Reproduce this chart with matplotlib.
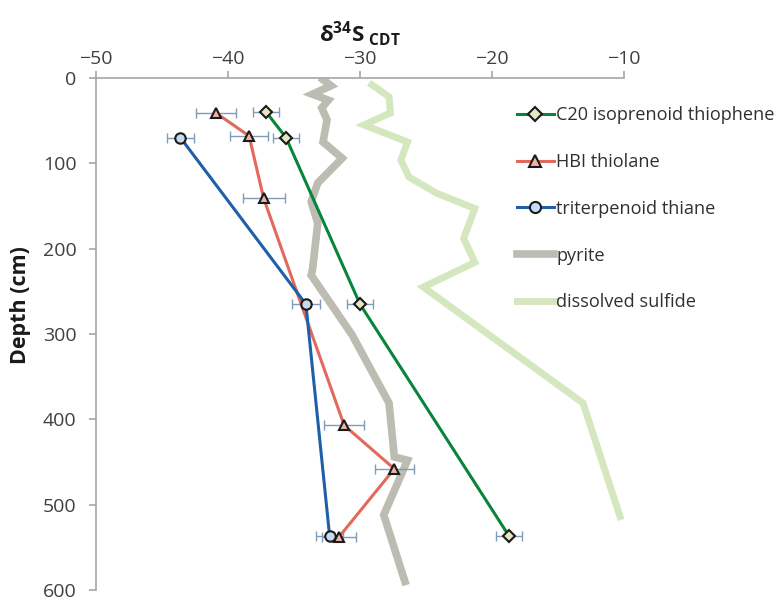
import matplotlib
matplotlib.use("Agg")
import matplotlib.pyplot as plt
from matplotlib.lines import Line2D

plt.rcParams['font.family'] = ['Open Sans', 'DejaVu Sans']
plt.rcParams['mathtext.fontset'] = 'custom'
plt.rcParams['mathtext.rm'] = 'Open Sans'
plt.rcParams['mathtext.bf'] = 'Open Sans:bold'

# ---- data ----
c20_depth = [40, 70, 265, 537]
c20_d34s = [-37.1, -35.6, -30.0, -18.7]
c20_err = [1.0, 1.0, 1.0, 1.0]

hbi_depth = [41, 68, 141, 407, 458, 538]
hbi_d34s = [-40.9, -38.4, -37.3, -31.2, -27.4, -31.6]
hbi_err = [1.5, 1.45, 1.6, 1.5, 1.5, 1.3]

tri_depth = [70, 265, 537]
tri_d34s = [-43.6, -34.1, -32.3]
tri_err = [1.0, 1.05, 1.0]

pyrite_depth = [2, 9, 19, 26, 35, 49, 75, 94, 123, 145, 170, 225, 231, 301, 381, 444, 448, 512, 590]
pyrite_d34s = [-32.8, -32.2, -33.6, -32.4, -32.9, -32.5, -32.8, -31.35, -33.2, -33.7, -33.2, -33.6, -33.7,
               -30.6, -27.8, -27.4, -26.4, -28.2, -26.6]

sulf_depth = [8, 22, 41, 55, 75, 96, 116, 135, 153, 188, 216, 245, 381, 514]
sulf_d34s = [-29.1, -27.8, -27.7, -29.7, -26.4, -26.9, -26.3, -24.2, -21.3, -22.15, -21.3, -25.2, -13.1, -10.3]

xticks = [-50, -40, -30, -20, -10]
yticks = [0, 100, 200, 300, 400, 500, 600]

# ---- colours ----
c_green = '#07853a'
c_red = '#e2695b'
c_blue = '#1f5ea8'
c_pyrite = '#bcbcb2'
c_sulf = '#d5e7bf'
c_err = '#7f9db8'

fig = plt.figure(figsize=(7.82, 6.01), dpi=100)
ax = fig.add_axes([96/782, 11/601, 528/782, 512/601])

ax.plot(pyrite_d34s, pyrite_depth, color=c_pyrite, lw=5.5, solid_joinstyle='miter', zorder=1)
ax.plot(sulf_d34s, sulf_depth, color=c_sulf, lw=5, solid_joinstyle='miter', zorder=1)

ms = 7.5
ax.errorbar(c20_d34s, c20_depth, xerr=c20_err, fmt='none', ecolor=c_err, elinewidth=1, capsize=3.5, zorder=2)
ax.errorbar(hbi_d34s, hbi_depth, xerr=hbi_err, fmt='none', ecolor=c_err, elinewidth=1, capsize=3.5, zorder=2)
ax.errorbar(tri_d34s, tri_depth, xerr=tri_err, fmt='none', ecolor=c_err, elinewidth=1, capsize=3.5, zorder=2)

ax.plot(c20_d34s, c20_depth, color=c_green, lw=2.2, marker='D', ms=6.5,
        mfc='#e6e6c0', mec='#1a1a1a', mew=1.5, zorder=3)
ax.plot(hbi_d34s, hbi_depth, color=c_red, lw=2.2, marker='^', ms=ms,
        mfc='#f3b2a4', mec='#1a1a1a', mew=1.5, zorder=4)
ax.plot(tri_d34s, tri_depth, color=c_blue, lw=2.2, marker='o', ms=ms,
        mfc='#c6dbf0', mec='#1a1a1a', mew=1.5, zorder=5)

ax.set_xlim(-50, -10)
ax.set_ylim(600, 0)
ax.set_xticks(xticks)
ax.set_yticks(yticks)
ax.xaxis.tick_top()
ax.xaxis.set_label_position('top')
for s in ['right', 'bottom']:
    ax.spines[s].set_visible(False)
for s in ['top', 'left']:
    ax.spines[s].set_color('#a6a6a6')
    ax.spines[s].set_linewidth(1.2)
ax.tick_params(axis='both', colors='#a6a6a6', direction='out', length=5, width=1.2,
               labelsize=14, labelcolor='#404040')
ax.tick_params(axis='x', pad=2)
ax.tick_params(axis='y', pad=9)

ax.set_xlabel(r'$\mathbf{δ^{34}S_{\ CDT}}$', fontsize=16, color='#1a1a1a')
ax.xaxis.set_label_coords(0.5, 1 + 36/512)
ax.set_ylabel('Depth (cm)', fontsize=15.5, fontweight='bold', color='#1a1a1a')
ax.yaxis.set_label_coords(-0.123, 0.557)

handles = [
    Line2D([], [], color=c_green, lw=2.2, marker='D', ms=7, mfc='#e6e6c0', mec='#1a1a1a', mew=1.5),
    Line2D([], [], color=c_red, lw=2.2, marker='^', ms=8, mfc='#f3b2a4', mec='#1a1a1a', mew=1.5),
    Line2D([], [], color=c_blue, lw=2.2, marker='o', ms=8, mfc='#c6dbf0', mec='#1a1a1a', mew=1.5),
    Line2D([], [], color=c_pyrite, lw=5.5),
    Line2D([], [], color=c_sulf, lw=5),
]
labels = ['C20 isoprenoid thiophene', 'HBI thiolane', 'triterpenoid thiane', 'pyrite', 'dissolved sulfide']
leg = fig.legend(handles, labels, loc='upper left', bbox_to_anchor=(510/782, 1 - 99/601),
                 frameon=False, fontsize=13.1, handlelength=2.0, handletextpad=0.15,
                 labelspacing=1.58, borderaxespad=0)
for t in leg.get_texts():
    t.set_color('#303030')

fig.savefig('out.png', dpi=100)
